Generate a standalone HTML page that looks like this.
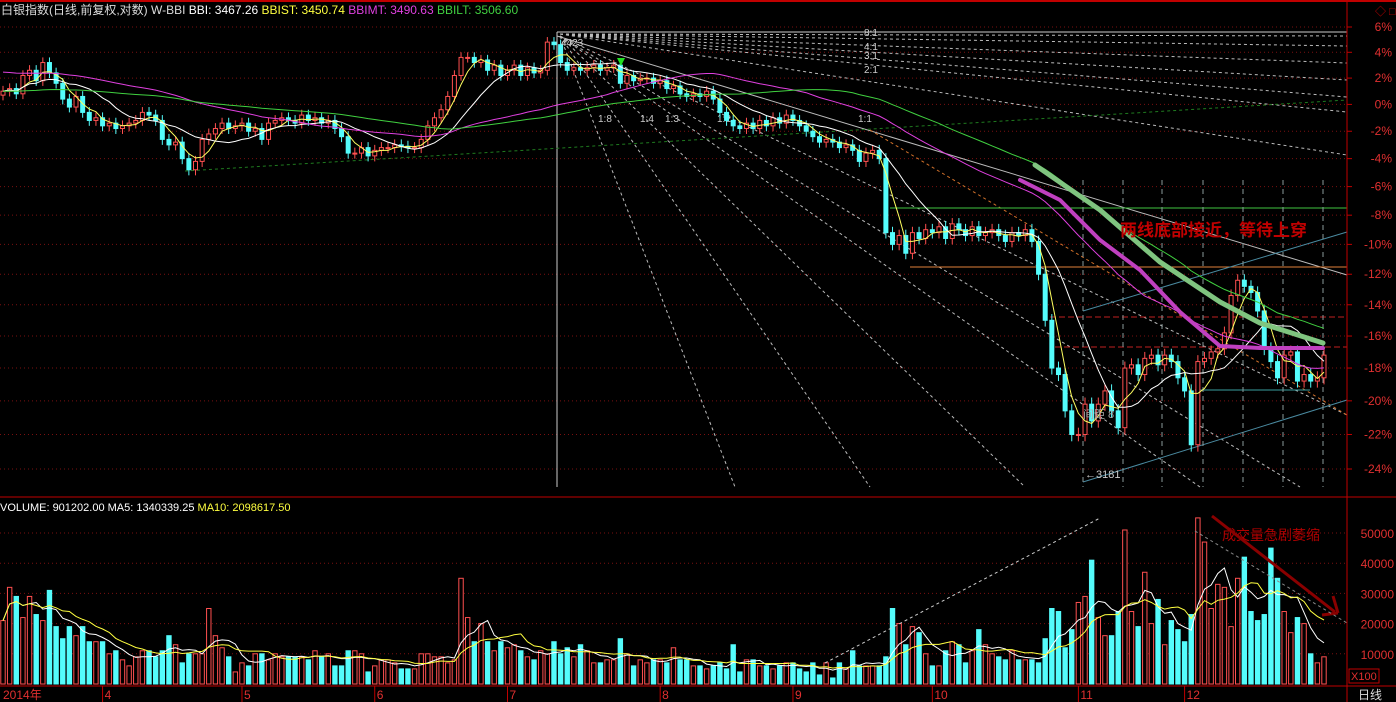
<!DOCTYPE html>
<html><head><meta charset="utf-8"><style>
html,body{margin:0;padding:0;background:#000;width:1396px;height:702px;overflow:hidden;font-family:"Liberation Sans","Noto Sans CJK SC",sans-serif}
svg{display:block}
text{font-family:"Liberation Sans","Noto Sans CJK SC",sans-serif}
</style></head><body>
<svg id="c" width="1396" height="702">
<rect x="0" y="0" width="1396" height="702" fill="#000"/>
<line x1="0" y1="1" x2="1396" y2="1" stroke="#c00000" stroke-width="2"/>
<g id="grid"></g>
<g id="annot-under"></g>
<g id="candles"></g>
<g id="mas"></g>
<g id="vol"></g>
<g id="annot-over"></g>
<g id="axes"></g>
</svg>
<script>
const closes=[1.0,1.2,0.8,2.2,2.6,1.8,3.2,2.4,1.6,0.4,
-0.2,0.6,-0.6,-1.2,-1.0,-1.6,-1.4,-1.8,-1.6,-1.4,
-1.2,-0.6,-0.8,-1.2,-2.6,-3.0,-2.8,-4.0,-4.8,-4.2,
-2.6,-2.2,-1.8,-1.4,-1.8,-1.6,-1.4,-2.0,-1.8,-2.6,
-1.4,-1.2,-1.0,-1.2,-1.4,-0.8,-1.2,-1.0,-1.4,-1.2,
-1.8,-2.4,-3.6,-3.6,-3.2,-3.8,-3.4,-3.2,-3.2,-3.0,
-3.1,-3.2,-3.2,-2.6,-1.6,-1.0,-0.4,0.6,2.2,3.6,
3.6,3.2,3.4,2.6,3.0,2.2,2.6,3.0,2.2,2.8,
2.4,2.6,4.8,4.6,3.2,2.6,2.8,2.6,2.8,3.0,
2.6,2.8,3.0,1.6,2.2,1.8,2.0,2.0,1.6,1.8,
1.2,1.4,0.8,0.6,0.8,0.6,1.0,0.4,-0.6,-1.2,
-1.6,-1.8,-1.4,-1.8,-1.2,-1.6,-1.0,-1.4,-0.8,-1.2,
-1.6,-2.0,-2.4,-2.8,-2.6,-2.8,-3.2,-3.0,-3.4,-4.2,
-3.6,-3.4,-4.0,-9.2,-10.0,-9.4,-10.6,-9.2,-9.6,-9.0,
-9.2,-8.8,-9.6,-8.6,-9.0,-9.4,-8.8,-9.4,-9.2,-9.0,
-9.4,-9.8,-9.2,-9.4,-9.0,-9.8,-12.0,-15.0,-18.0,-18.4,
-20.6,-22.0,-22.0,-20.2,-21.2,-20.2,-19.4,-20.6,-21.6,-18.0,
-17.8,-18.4,-17.4,-17.2,-17.8,-17.2,-17.6,-18.6,-19.4,-22.6,
-17.6,-17.4,-17.0,-16.8,-15.8,-13.4,-12.4,-12.8,-13.2,-14.4,
-16.8,-17.6,-18.6,-17.2,-17.0,-18.8,-18.4,-18.8,-18.6,-17.2];
const volumes=[21,32,29,22,29,23,21,31,19,15,19,16,19,14,14,14,10,11,8,6,
9,11,11,9,11,16,13,7,10,10,10,25,16,12,9,4,7,6,10,10,
8,10,9,9,9,9,8,11,9,10,6,6,11,11,10,4,6,8,8,7,
5,5,5,10,10,9,9,7,8,35,22,14,20,14,11,14,12,13,11,9,
8,11,10,14,10,12,9,13,11,7,7,8,8,15,10,6,8,7,8,8,7,12,8,8,6,
6,5,6,7,5,13,4,8,8,6,6,5,6,7,7,5,4,7,3,7,
2,7,5,11,6,6,6,6,9,25,20,13,19,17,10,6,6,11,14,13,
7,11,18,13,10,9,8,11,8,8,8,7,15,25,24,12,18,27,29,41,
22,16,16,24,51,24,19,37,20,28,13,21,18,14,23,55,47,25,33,32,
19,35,42,24,21,23,45,35,24,17,22,20,10,7,9];
const priorLevels=[2.5,1.0]; // pre-window average level for BBIMT, BBILT
const priceTicks=[6,4,2,0,-2,-4,-6,-8,-10,-12,-14,-16,-18,-20,-22,-24];
const volTicks=[10000,20000,30000,40000,50000];
const monthLabels=["2014年","4","5","6","7","8","9","10","11","12"];
const monthIdx=[0,15,36,56,76,99,119,140,162,178];

const NS="http://www.w3.org/2000/svg";
const N=closes.length;
function X(i){return 3+i*(1321/(N-1));}
function Y(p){return 104.4-1328.5*Math.log(1+p/100);}
function VY(v){return 684-v*3.02;}
function mk(tag,attrs,parent){const e=document.createElementNS(NS,tag);for(const k in attrs)e.setAttribute(k,attrs[k]);parent.appendChild(e);return e;}
function ma(arr,n,seed){return arr.map((_,i)=>{let t=0,c=0;for(let j=i-n+1;j<=i;j++){if(j>=0){t+=arr[j];c++;}else if(seed!==undefined){t+=seed;c++;}}return t/c;});}
const G=id=>document.getElementById(id);

const grid=G('grid');
priceTicks.forEach(p=>{const l=mk('line',{x1:0,x2:1347,y1:Y(p),y2:Y(p),stroke:'#7a1010','stroke-dasharray':'1,3'},grid);

});
volTicks.forEach(v=>{const l=mk('line',{x1:0,x2:1347,y1:VY(v/1000),y2:VY(v/1000),stroke:'#7a1010','stroke-dasharray':'1,3'},grid);

});

const au=G('annot-under');
function ln(x1,y1,x2,y2,st,w,da,name,par){const l=mk('line',{x1,y1,x2,y2,stroke:st,'stroke-width':w||1},par||au);if(da)l.setAttribute('stroke-dasharray',da);return l;}
ln(557,32,557,487,'#ccc',1,null,'gann-vertical');
ln(557,32,1347,32,'#ccc',1,null,'gann-top-line');
[36,46,63,80,97,112,155].forEach(a=>ln(560,34,1347,a,'#bbb',1,'3,3','gann-fan-up'));
[[735,487],[870,487],[1025,487],[1200,487],[1300,487],[1347,415]].forEach(a=>ln(560,36,a[0],a[1],'#bbb',1,'3,3','gann-fan-down'));
ln(557,36,1347,275,'#bbb',1,null,'trend-line');
ln(185,171,1347,100,'#1f7a1f',1,'3,3','green-support-line');
ln(870,130,1347,415,'#d0702a',1,'3,3','orange-trend-line');
ln(890,208,1347,208,'#3fc33f',1,null,'green-horizontal');
ln(910,267,1347,267,'#e0803a',1,null,'orange-horizontal');
ln(1050,317,1347,317,'#c02020',1,'6,3','red-dash-level-1');
ln(1055,347,1347,347,'#c02020',1,'6,3','red-dash-level-2');
ln(1083,311,1347,232,'#4a8aa0',1,null,'channel-upper');
ln(1083,482,1347,400,'#4a8aa0',1,null,'channel-lower');
ln(1195,390,1310,390,'#3aa0a0',1,null,'support-horizontal');
[1083,1123,1162,1203,1243,1283,1323].forEach(x=>ln(x,180,x,487,'#8a9a9a',1,'5,4','time-cycle-line'));
[[598,'1:8'],[640,'1:4'],[665,'1:3'],[717,'1:2'],[858,'1:1']].forEach(a=>{const t=mk('text',{x:a[0],y:122,fill:'#ccc','font-size':10},au);t.textContent=a[1];

});
[[36,'8:1'],[50,'4:1'],[59,'3:1'],[73,'2:1']].forEach(a=>{const t=mk('text',{x:864,y:a[0],fill:'#ccc','font-size':10},au);t.textContent=a[1];

});

const cg=G('candles');
for(let i=0;i<N;i++){
 const c=closes[i],o=i?closes[i-1]:c-0.3;const up=c>=o;
 const hi=Math.max(o,c)+0.4,lo=Math.min(o,c)-0.4;
 const col=up?'#ff5050':'#54fcfc';
 const w=mk('line',{x1:X(i),x2:X(i),y1:Y(hi),y2:Y(lo),stroke:col},cg);
 
 
 const yt=Y(Math.max(o,c)),yb=Y(Math.min(o,c));
 const r=mk('rect',{x:X(i)-2,y:yt,width:4,height:Math.max(1,yb-yt),fill:up?'#000':col,stroke:col},cg);
 
 
}
const mg=G('mas');
function poly(arr,col,w,name,fy,par){const pts=arr.map((v,i)=>X(i).toFixed(1)+','+fy(v).toFixed(1)).join(' ');
 const p=mk('polyline',{points:pts,fill:'none',stroke:col,'stroke-width':w},par);
 
 }
poly(ma(closes,4),'#ffff60',1,'bbist-line',Y,mg);
poly(ma(closes,11),'#ffffff',1,'bbi-line',Y,mg);
poly(ma(closes,40,priorLevels[0]),'#e040e0',1,'bbimt-line',Y,mg);
poly(ma(closes,60,priorLevels[1]),'#40d040',1,'bbilt-line',Y,mg);

const vg=G('vol');
for(let i=0;i<N;i++){
 const up=i?closes[i]>=closes[i-1]:true;const col=up?'#ff5050':'#54fcfc';
 const y=VY(volumes[i]);
 const r=mk('rect',{x:X(i)-2.2,y:y,width:4.4,height:684-y,fill:up?'#000':col,stroke:col},vg);
 
 
}
poly(ma(volumes,5),'#ffffff',1,'volume-ma5',VY,vg);
poly(ma(volumes,10),'#ffff40',1,'volume-ma10',VY,vg);

const ao=G('annot-over');
const gp=mk('polyline',{points:'1035,165 1100,210 1160,262 1220,302 1260,323 1323,343',fill:'none',stroke:'#7fc47f','stroke-width':5,'stroke-linecap':'round'},ao);

const mp=mk('polyline',{points:'1020,180 1060,200 1100,240 1140,270 1180,312 1220,346 1260,348 1323,348',fill:'none',stroke:'#c040c0','stroke-width':4,'stroke-linecap':'round'},ao);

const t1=mk('text',{x:1120,y:236,fill:'#c00000','font-size':17,'font-weight':'bold'},ao);t1.textContent='两线底部接近，等待上穿';

const t2=mk('text',{x:1222,y:540,fill:'#b00000','font-size':14},ao);t2.textContent='成交量急剧萎缩';

ln(1212,516,1335,612,'#8a0000',3,null,'volume-arrow',ao);
ln(1322,615,1338,613,'#8a0000',3,null,'volume-arrow-head',ao);
ln(1338,613,1333,596,'#8a0000',3,null,'volume-arrow-head',ao);
ln(1195,531,1347,623,'#888',1,'3,3','volume-trend-down',ao);
ln(825,663,1100,518,'#ccc',1,'3,3','volume-trend-up',ao);
const t3=mk('text',{x:1085,y:478,fill:'#ccc','font-size':11},ao);t3.textContent='←3181';

const t4=mk('text',{x:1083,y:418,fill:'#aaa','font-size':11},ao);t4.textContent='间距 8';

const t5=mk('text',{x:561,y:46,fill:'#ccc','font-size':10},ao);t5.textContent='4423';

const ar=mk('polygon',{points:'617,58 625,58 621,66',fill:'#20e020'},ao);


const ax=G('axes');
ln(1347,0,1347,702,'#c00000',1,null,'right-axis-line',ax);
ln(0,497,1396,497,'#c00000',1,null,'panel-divider',ax);
ln(0,686,1396,686,'#c00000',1,null,'time-axis-line',ax);
priceTicks.forEach(p=>{const t=mk('text',{x:1392,y:Y(p)+4,fill:'#e03030','font-size':12,'text-anchor':'end'},ax);t.textContent=p+'%';

ln(1347,Y(p),1352,Y(p),'#c00000',1,null,'price-tick',ax);});
volTicks.forEach(v=>{const t=mk('text',{x:1394,y:VY(v/1000)+5,fill:'#e03030','font-size':12,'text-anchor':'end'},ax);t.textContent=v;
});
const xb=mk('rect',{x:1349,y:669,width:30,height:14,fill:'none',stroke:'#c00000'},ax);

const xt=mk('text',{x:1351,y:680,fill:'#e03030','font-size':11},ax);xt.textContent='X100';

monthLabels.forEach((m,k)=>{const x=k?X(monthIdx[k]):3;
 const t=mk('text',{x:x+(k?2:0),y:699,fill:'#e03030','font-size':12},ax);t.textContent=m;
 
 if(k)ln(x,686,x,702,'#c00000',1,null,'month-tick',ax);});
const dl=mk('text',{x:1358,y:699,fill:'#ddd','font-size':12},ax);dl.textContent='日线';

const ic=mk('text',{x:1375,y:15,fill:'#c00000','font-size':11},ax);ic.textContent='◇ □';


const h=mk('text',{x:1,y:14,'font-size':12},ax);

[['白银指数(日线,前复权,对数) W-BBI ','#ddd'],['BBI: 3467.26 ','#fff'],['BBIST: 3450.74 ','#ffff40'],['BBIMT: 3490.63 ','#e040e0'],['BBILT: 3506.60','#40d040']].forEach(s=>{const ts=mk('tspan',{fill:s[1]},h);ts.textContent=s[0];});
const vh=mk('text',{x:0,y:511,'font-size':11},ax);

[['VOLUME: 901202.00 MA5: 1340339.25 ','#fff'],['MA10: 2098617.50','#ffff40']].forEach(s=>{const ts=mk('tspan',{fill:s[1]},vh);ts.textContent=s[0];});
</script>
</body></html>
